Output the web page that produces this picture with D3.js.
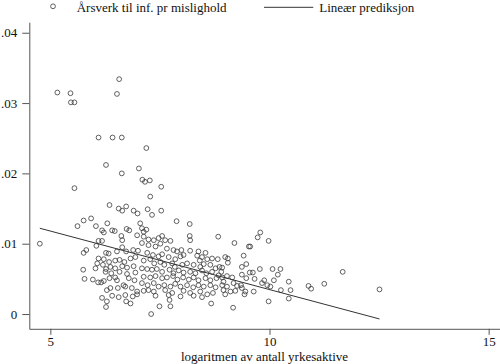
<!DOCTYPE html>
<html><head><meta charset="utf-8">
<script src="https://cdn.jsdelivr.net/npm/d3@7"></script>
<style>body{margin:0;background:#fff}svg{display:block}</style>
</head><body><svg id="c" width="500" height="364"></svg>
<script>
// observations: [log employed, person-years per misconduct]
const outliers = [[5.16,.0315],[5.46,.0314],[5.47,.0301],[5.55,.0301],[6.57,.0334],[6.52,.0313],[6.10,.0251],[6.42,.0251],[6.63,.0251],[7.19,.0236],[6.27,.0212],[7.02,.0207],[6.63,.0200],[7.10,.0191],[7.16,.0188],[7.27,.0190],[5.55,.0179],[7.53,.0181],[4.76,.0100]];
const groupLow = [[6.35,.0155],[6.56,.0150],[6.64,.0147],[6.73,.0153],[6.90,.0147],[6.99,.0143],[5.93,.0136],[5.76,.0133],[5.62,.0125],[6.04,.0125],[6.18,.0119],[6.22,.0116],[6.30,.0129],[6.41,.0119],[6.47,.0118],[6.74,.0121],[6.80,.0119],[6.98,.0112],[6.62,.0111],[6.64,.0105],[6.10,.0104],[6.18,.0104],[5.82,.0091],[5.76,.0087],[6.05,.0097],[6.27,.0087],[6.33,.0086],[6.52,.0089],[6.64,.0095],[6.73,.0089],[6.89,.0091],[7.00,.0090],[6.10,.0079],[6.22,.0078],[6.34,.0074],[6.48,.0076],[6.58,.0077],[6.69,.0074],[6.83,.0079],[6.94,.0081],[6.07,.0072],[6.20,.0070],[6.37,.0067],[6.48,.0065],[6.64,.0068],[6.75,.0066],[6.90,.0068],[6.03,.0065],[6.27,.0064],[5.75,.0063],[6.26,.0060],[6.39,.0058],[6.58,.0060],[6.75,.0057],[6.94,.0059],[5.78,.0050],[5.97,.0049],[6.09,.0045],[6.16,.0045],[6.22,.0047],[6.35,.0051],[6.48,.0052],[6.52,.0048],[6.67,.0041],[6.71,.0039],[6.79,.0051],[6.92,.0048],[6.37,.0037],[6.29,.0034],[6.54,.0037],[6.86,.0037],[6.98,.0032],[6.18,.0023],[6.41,.0026],[6.56,.0024],[6.71,.0027],[6.88,.0025],[6.29,.0018],[6.27,.0010],[6.73,.0018],[6.83,.0015],[6.98,.0028]];
const groupMid = [[7.28,.0167],[7.22,.0149],[7.32,.0141],[7.53,.0147],[7.88,.0132],[8.18,.0128],[7.05,.0129],[7.09,.0122],[7.13,.0117],[7.19,.0120],[8.18,.0111],[8.19,.0105],[8.83,.0110],[7.13,.0110],[7.24,.0106],[7.36,.0105],[7.47,.0108],[7.55,.0111],[7.62,.0105],[7.74,.0104],[7.09,.0101],[7.24,.0098],[7.40,.0096],[7.51,.0100],[7.66,.0093],[7.81,.0091],[7.89,.0089],[7.99,.0091],[8.19,.0090],[8.38,.0089],[8.54,.0087],[7.21,.0087],[7.34,.0084],[7.47,.0082],[7.55,.0085],[7.70,.0081],[7.85,.0078],[7.97,.0082],[8.04,.0084],[8.35,.0083],[8.46,.0081],[8.41,.0076],[8.58,.0078],[8.69,.0079],[8.82,.0078],[7.13,.0076],[7.28,.0078],[7.37,.0072],[7.51,.0074],[7.60,.0070],[7.78,.0072],[7.84,.0067],[8.01,.0070],[8.12,.0072],[8.27,.0070],[8.42,.0067],[8.50,.0071],[8.65,.0070],[8.77,.0065],[8.86,.0067],[7.09,.0065],[7.21,.0064],[7.32,.0063],[7.43,.0064],[7.55,.0060],[7.72,.0063],[7.81,.0058],[7.93,.0062],[8.04,.0059],[8.19,.0060],[8.31,.0058],[8.46,.0062],[8.56,.0058],[8.69,.0060],[8.84,.0055],[7.13,.0053],[7.28,.0052],[7.40,.0054],[7.55,.0051],[7.66,.0052],[7.80,.0054],[7.90,.0049],[8.03,.0052],[8.16,.0049],[8.27,.0052],[8.38,.0048],[8.54,.0051],[8.65,.0048],[8.79,.0051],[7.09,.0044],[7.22,.0041],[7.36,.0044],[7.47,.0039],[7.60,.0041],[7.74,.0039],[7.85,.0043],[7.97,.0039],[8.12,.0041],[8.26,.0038],[8.38,.0041],[8.50,.0039],[8.65,.0041],[8.77,.0038],[7.13,.0033],[7.24,.0034],[7.36,.0032],[7.62,.0034],[7.78,.0030],[8.04,.0033],[8.19,.0030],[8.42,.0032],[8.58,.0028],[8.71,.0030],[7.40,.0026],[7.70,.0027],[7.97,.0025],[8.27,.0026],[8.46,.0024],[7.49,.0011],[7.74,.0011],[7.72,.0020],[8.67,.0015],[7.30,.0000]];
const groupHigh = [[9.20,.0101],[9.53,.0096],[9.56,.0096],[9.79,.0116],[9.73,.0109],[9.98,.0104],[8.99,.0081],[9.05,.0079],[9.05,.0073],[9.41,.0083],[8.92,.0066],[8.90,.0060],[9.37,.0067],[9.47,.0071],[9.55,.0059],[9.62,.0059],[9.78,.0064],[10.07,.0064],[10.25,.0064],[10.19,.0056],[9.03,.0054],[9.15,.0052],[9.37,.0056],[9.47,.0051],[9.66,.0050],[8.92,.0052],[8.95,.0046],[9.88,.0048],[9.83,.0044],[9.95,.0041],[10.02,.0039],[10.10,.0048],[10.44,.0046],[8.92,.0041],[9.03,.0039],[9.18,.0044],[9.26,.0040],[9.35,.0041],[8.95,.0034],[9.11,.0032],[9.22,.0033],[9.37,.0037],[9.45,.0032],[9.64,.0032],[10.26,.0034],[10.48,.0034],[8.99,.0028],[9.43,.0028],[10.44,.0022],[9.98,.0018],[9.17,.0009],[10.89,.0040],[10.95,.0036],[11.25,.0043],[11.67,.0060],[12.51,.0035]];
const predX = [4.76, 12.51];
const predY = [0.0122, -0.0007];
const xTicks = [5, 10, 15];
const xTickLabels = ["5", "10", "15"];
const yTicks = [0, .01, .02, .03, .04];
const yTickLabels = ["0", ".01", ".02", ".03", ".04"];
const legendLabels = ["Årsverk til inf. pr mislighold", "Lineær prediksjon"];
const xTitle = "logaritmen av antall yrkesaktive";

const points = [].concat(outliers, groupLow, groupMid, groupHigh);
const svg = d3.select("#c");
const font = "'Liberation Serif','Times New Roman',Times,serif";
const x = d3.scaleLinear().domain([4.52, 15.25]).range([29.3, 499.6]);
const y = d3.scaleLinear().domain([-0.0021, 0.0415]).range([328.8, 22.2]);
const axisCol = "#555", markCol = "#3a3a3a", textCol = "#111";

// axes
const gx = svg.append("g").attr("transform", `translate(0,${y.range()[0]})`)
  .call(d3.axisBottom(x).tickValues(xTicks).tickFormat((d,i)=>xTickLabels[i]).tickSizeInner(6).tickSizeOuter(0).tickPadding(1.5));
const gy = svg.append("g").attr("transform", `translate(${x.range()[0]},0)`)
  .call(d3.axisLeft(y).tickValues(yTicks).tickFormat((d,i)=>yTickLabels[i]).tickSizeInner(7).tickSizeOuter(0).tickPadding(5));
[gx, gy].forEach(g => {
  g.selectAll("path,line").attr("stroke", axisCol).attr("stroke-width", 1);
  g.selectAll("text").attr("fill", textCol).style("font-family", font).style("font-size", "13px");
});

// scatter
svg.append("g").selectAll("circle").data(points).join("circle")
  .attr("cx", d => x(d[0])).attr("cy", d => y(d[1])).attr("r", 2.4)
  .attr("fill", "none").attr("stroke", markCol).attr("stroke-width", 0.8);

// linear prediction
const pred = predX.map((v,i)=>[v, predY[i]]);
svg.append("path").datum(pred)
  .attr("d", d3.line().x(d=>x(d[0])).y(d=>y(d[1])))
  .attr("fill","none").attr("stroke", "#333").attr("stroke-width", 1);

// axis title
svg.append("text").attr("x", (x.range()[0]+x.range()[1])/2).attr("y", 361)
  .attr("text-anchor","middle").attr("fill", textCol)
  .style("font-family", font).style("font-size","13px").text(xTitle);

// legend
const lg = svg.append("g");
lg.append("circle").attr("cx", 53).attr("cy", 6.3).attr("r", 2.4)
  .attr("fill","none").attr("stroke", markCol).attr("stroke-width", 0.8);
lg.append("text").attr("x", 76.7).attr("y", 12).attr("fill", textCol)
  .style("font-family", font).style("font-size","13px").text(legendLabels[0]);
lg.append("line").attr("x1", 264).attr("x2", 313.3).attr("y1", 7.3).attr("y2", 7.3)
  .attr("stroke", "#333").attr("stroke-width", 1);
lg.append("text").attr("x", 319.3).attr("y", 12).attr("fill", textCol)
  .style("font-family", font).style("font-size","13px").text(legendLabels[1]);
</script></body></html>
